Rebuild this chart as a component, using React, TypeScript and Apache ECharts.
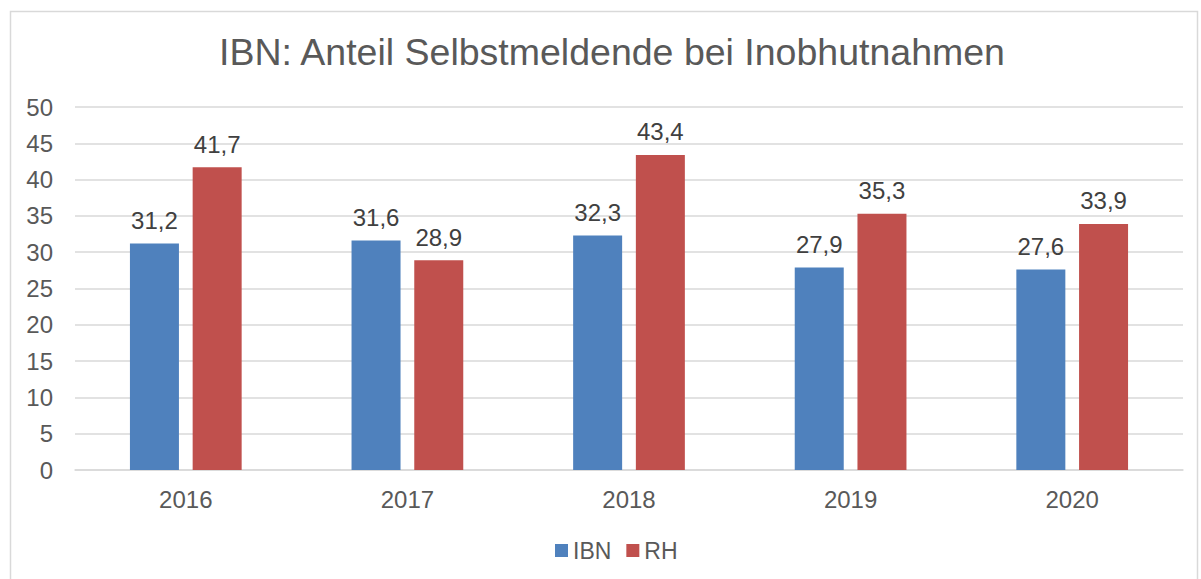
import React, { useEffect, useRef } from "react";
import * as echarts from "echarts";

const categories = ["2016", "2017", "2018", "2019", "2020"];
const ibnValues = [31.2, 31.6, 32.3, 27.9, 27.6];
const rhValues = [41.7, 28.9, 43.4, 35.3, 33.9];
const titleText = "IBN: Anteil Selbstmeldende bei Inobhutnahmen";

const FONT = "'Liberation Sans', Arial, sans-serif";

export default function App() {
  const ref = useRef<HTMLDivElement>(null);
  useEffect(() => {
    if (!ref.current) return;
    const chart = echarts.init(ref.current, undefined, { renderer: "svg" });
    const fmt = (p: any) => String(p.value).replace(".", ",");
    const labelStyle = {
      show: true,
      position: "top",
      distance: 11,
      formatter: fmt,
      fontFamily: FONT,
      fontSize: 24,
      color: "#404040",
    };
    chart.setOption({
      animation: false,
      backgroundColor: "#ffffff",
      textStyle: { fontFamily: FONT },
      title: {
        text: titleText,
        left: 607,
        textAlign: "center",
        top: 28,
        textStyle: { fontFamily: FONT, fontSize: 37.5, fontWeight: "normal", color: "#595959" },
      },
      graphic: [
        {
          type: "rect",
          shape: { x: 10.5, y: 11.5, width: 1187, height: 620 },
          style: { fill: "none", stroke: "#d9d9d9", lineWidth: 1.5 },
          silent: true,
          z: -1,
        },
      ],
      legend: {
        top: 534,
        left: 550,
        itemWidth: 13,
        itemHeight: 13,
        itemGap: 15,
        icon: "rect",
        textStyle: { fontFamily: FONT, fontSize: 23, color: "#595959" },
        data: ["IBN", "RH"],
      },
      grid: { left: 75, right: 18, top: 107, bottom: 109 },
      xAxis: {
        type: "category",
        data: categories,
        axisLine: { lineStyle: { color: "#d9d9d9", width: 1.5 } },
        axisTick: { show: false },
        axisLabel: { fontFamily: FONT, fontSize: 24, color: "#595959", margin: 17 },
      },
      yAxis: {
        type: "value",
        min: 0,
        max: 50,
        interval: 5,
        axisLine: { show: false },
        axisTick: { show: false },
        axisLabel: { fontFamily: FONT, fontSize: 24, color: "#595959", margin: 22 },
        splitLine: { lineStyle: { color: "#d9d9d9", width: 1.5 } },
      },
      series: [
        {
          name: "IBN",
          type: "bar",
          data: ibnValues,
          barWidth: 49,
          barGap: "28%",
          itemStyle: { color: "#4f81bd" },
          label: labelStyle,
        },
        {
          name: "RH",
          type: "bar",
          data: rhValues,
          barWidth: 49,
          barGap: "28%",
          itemStyle: { color: "#c0504d" },
          label: labelStyle,
        },
      ],
    });
    return () => chart.dispose();
  }, []);
  return (
    <div
      ref={ref}
      style={{ position: "fixed", left: 0, top: 0, width: 1201, height: 579 }}
    />
  );
}
